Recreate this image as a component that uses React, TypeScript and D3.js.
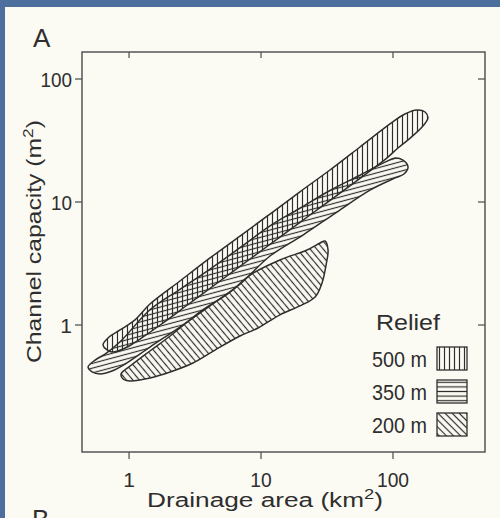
import React from 'react';
import * as d3 from 'd3';

const W = 500;
const H = 518;

// axis ticks
const xTicks = [1, 10, 100];
const xTickLabels = ['1', '10', '100'];
const yTicks = [1, 10, 100];
const yTickLabels = ['1', '10', '100'];

// Relief 500 m envelope: [drainage area km2, channel capacity m2]
const relief500Upper: [number, number][] = [
  [0.635, 0.687], [0.705, 0.798], [0.855, 0.911], [1.11, 1.1], [1.44, 1.48], [2.43, 2.28],
  [4.11, 3.51], [6.93, 5.29], [11.7, 7.98], [19.7, 12.1], [33.3, 18.2], [56.2, 28.0],
  [94.9, 43.1], [123, 51.9], [152, 56.0], [175, 53.9], [184, 48.2],
];
const relief500Lower: [number, number][] = [
  [166, 40.7], [135, 33.1], [109, 27.5], [91.6, 23.2], [67.0, 17.9], [39.7, 11.8],
  [23.5, 7.84], [13.9, 5.19], [8.26, 3.44], [4.89, 2.28], [2.9, 1.51], [1.72, 1.0],
  [1.21, 0.769], [0.933, 0.65], [0.743, 0.603],
];

// Relief 350 m envelope
const relief350Upper: [number, number][] = [
  [0.489, 0.456], [0.553, 0.519], [0.658, 0.581], [0.855, 0.73], [1.44, 1.33], [2.43, 1.95],
  [4.11, 2.85], [6.93, 4.25], [11.7, 6.4], [19.7, 8.9], [33.3, 12.4], [56.2, 16.5],
  [87.0, 21.1], [104, 22.8], [119, 21.9], [130, 19.3],
];
const relief350Lower: [number, number][] = [
  [121, 16.9], [104, 15.7], [67.0, 12.5], [37.6, 8.29], [20.8, 5.39], [11.7, 3.64],
  [6.93, 2.15], [4.11, 1.43], [2.43, 0.963], [1.44, 0.662], [0.933, 0.482], [0.743, 0.423],
  [0.603, 0.4], [0.525, 0.415],
];

// Relief 200 m envelope
const relief200Upper: [number, number][] = [
  [0.87, 0.4], [1.02, 0.464], [1.44, 0.615], [2.05, 0.814], [3.45, 1.28], [5.82, 1.85],
  [8.26, 2.55], [13.9, 3.38], [22.3, 4.07], [28.0, 4.64], [30.5, 4.82],
];
const relief200Lower: [number, number][] = [
  [32.2, 4.07], [31.1, 3.07], [29.0, 2.2], [25.7, 1.69], [19.7, 1.43], [13.9, 1.21],
  [9.49, 0.945], [6.93, 0.814], [4.48, 0.626], [3.05, 0.491], [2.05, 0.415], [1.44, 0.371],
  [1.02, 0.351], [0.901, 0.364],
];

const legendTitle = 'Relief';
const legendLabels = ['500 m', '350 m', '200 m'];
const legendPatterns = ['pvL', 'phL', 'pdL'];

const INK = '#2e2e2e';
const PAPER = '#fcfbf3';
const BLUE = '#4c6f9e';
const FONT = "'Liberation Sans', Arial, sans-serif";

export default function App() {
  const left = 82, right = 485, top = 52, bottom = 452;
  const x = d3.scaleLog().domain([0.44, 498]).range([left, right]);
  const y = d3.scaleLog().domain([0.0928, 165.8]).range([bottom, top]);

  const line = d3
    .line<[number, number]>()
    .x((d) => x(d[0]))
    .y((d) => y(d[1]))
    .curve(d3.curveCatmullRomClosed.alpha(0.5));

  const shapes = [
    { id: '350', pts: relief350Upper.concat(relief350Lower), fill: 'url(#ph)' },
    { id: '500', pts: relief500Upper.concat(relief500Lower), fill: 'url(#pv)' },
    { id: '200', pts: relief200Upper.concat(relief200Lower), fill: 'url(#pd)' },
  ];

  const legendX = 437;
  const legendRowY = [347, 380, 413];

  return (
    <svg
      width={W}
      height={H}
      viewBox={`0 0 ${W} ${H}`}
      style={{ position: 'absolute', left: 0, top: 0, display: 'block' }}
    >
      <defs>
        <pattern id="pv" width={5} height={5} patternUnits="userSpaceOnUse">
          <line x1={2.5} y1={-1} x2={2.5} y2={6} stroke={INK} strokeWidth={1.2} />
        </pattern>
        <pattern id="ph" width={5} height={4.6} patternUnits="userSpaceOnUse" patternTransform="rotate(-15)">
          <line x1={-1} y1={2.3} x2={6} y2={2.3} stroke={INK} strokeWidth={1.2} />
        </pattern>
        <pattern id="pd" width={5} height={5} patternUnits="userSpaceOnUse" patternTransform="rotate(-40)">
          <line x1={2.5} y1={-1} x2={2.5} y2={6} stroke={INK} strokeWidth={1.2} />
        </pattern>
        <pattern id="pvL" width={5} height={5} patternUnits="userSpaceOnUse" x={legendX}>
          <line x1={2.5} y1={-1} x2={2.5} y2={6} stroke={INK} strokeWidth={1.2} />
        </pattern>
        <pattern id="phL" width={5} height={4.6} patternUnits="userSpaceOnUse" y={380}>
          <line x1={-1} y1={2.3} x2={6} y2={2.3} stroke={INK} strokeWidth={1.2} />
        </pattern>
        <pattern id="pdL" width={5} height={5} patternUnits="userSpaceOnUse" patternTransform="rotate(-45)">
          <line x1={2.5} y1={-1} x2={2.5} y2={6} stroke={INK} strokeWidth={1.2} />
        </pattern>
      </defs>

      {/* slide background and paper */}
      <rect x={0} y={0} width={W} height={H} fill={BLUE} />
      <rect x={5} y={7} width={W - 5} height={H - 7} fill={PAPER} />

      {/* panel letters */}
      <text x={33} y={47} fontFamily={FONT} fontSize={26} fill={INK}>A</text>
      <text x={32} y={528} fontFamily={FONT} fontSize={26} fill={INK}>B</text>

      {/* shapes */}
      {shapes.map((s) => (
        <path key={s.id + 'f'} d={line(s.pts) || ''} fill={s.fill} stroke="none" />
      ))}
      {shapes.map((s) => (
        <path key={s.id + 's'} d={line(s.pts) || ''} fill="none" stroke={INK} strokeWidth={1.5} />
      ))}

      {/* frame */}
      <rect x={left} y={top} width={right - left} height={bottom - top} fill="none" stroke="#555" strokeWidth={1.5} />

      {/* x ticks */}
      {xTicks.map((t, i) => (
        <g key={'xt' + t}>
          <line x1={x(t)} x2={x(t)} y1={bottom} y2={bottom + 7} stroke="#555" strokeWidth={1.3} />
          <line x1={x(t)} x2={x(t)} y1={top} y2={top + 6} stroke="#555" strokeWidth={1.3} />
          <text
            x={x(t)}
            y={487}
            textAnchor="middle"
            fontFamily={FONT}
            fontSize={21}
            fill={INK}
            {...(xTickLabels[i].length > 1 ? { textLength: xTickLabels[i].length * 10.7, lengthAdjust: 'spacingAndGlyphs' } : {})}
          >
            {xTickLabels[i]}
          </text>
        </g>
      ))}

      {/* y ticks */}
      {yTicks.map((t, i) => (
        <g key={'yt' + t}>
          <line x1={left - 7} x2={left} y1={y(t)} y2={y(t)} stroke="#555" strokeWidth={1.3} />
          <line x1={right - 7} x2={right} y1={y(t)} y2={y(t)} stroke="#555" strokeWidth={1.3} />
          <text
            x={left - 10}
            y={y(t) + 7.5}
            textAnchor="end"
            fontFamily={FONT}
            fontSize={21}
            fill={INK}
            {...(yTickLabels[i].length > 1 ? { textLength: yTickLabels[i].length * 10.5, lengthAdjust: 'spacingAndGlyphs' } : {})}
          >
            {yTickLabels[i]}
          </text>
        </g>
      ))}

      {/* axis titles */}
      <text x={147} y={507} fontFamily={FONT} fontSize={20} fill={INK} textLength={236} lengthAdjust="spacingAndGlyphs">
        Drainage area (km<tspan dy={-8} fontSize={14}>2</tspan><tspan dy={8}>)</tspan>
      </text>
      <text
        transform="translate(41,363) rotate(-90)"
        x={0}
        y={0}
        fontFamily={FONT}
        fontSize={20}
        fill={INK}
        textLength={243}
        lengthAdjust="spacingAndGlyphs"
      >
        Channel capacity (m<tspan dy={-8} fontSize={14}>2</tspan><tspan dy={8}>)</tspan>
      </text>

      {/* legend */}
      <text x={376} y={330} fontFamily={FONT} fontSize={22} fill={INK} textLength={64} lengthAdjust="spacingAndGlyphs">
        {legendTitle}
      </text>
      {legendLabels.map((lab, i) => (
        <g key={lab}>
          <text
            x={372}
            y={legendRowY[i] + 20}
            fontFamily={FONT}
            fontSize={22}
            fill={INK}
            textLength={55}
            lengthAdjust="spacingAndGlyphs"
          >
            {lab}
          </text>
          <rect x={legendX} y={legendRowY[i]} width={30} height={23} fill={`url(#${legendPatterns[i]})`} stroke={INK} strokeWidth={1.3} />
        </g>
      ))}
    </svg>
  );
}
